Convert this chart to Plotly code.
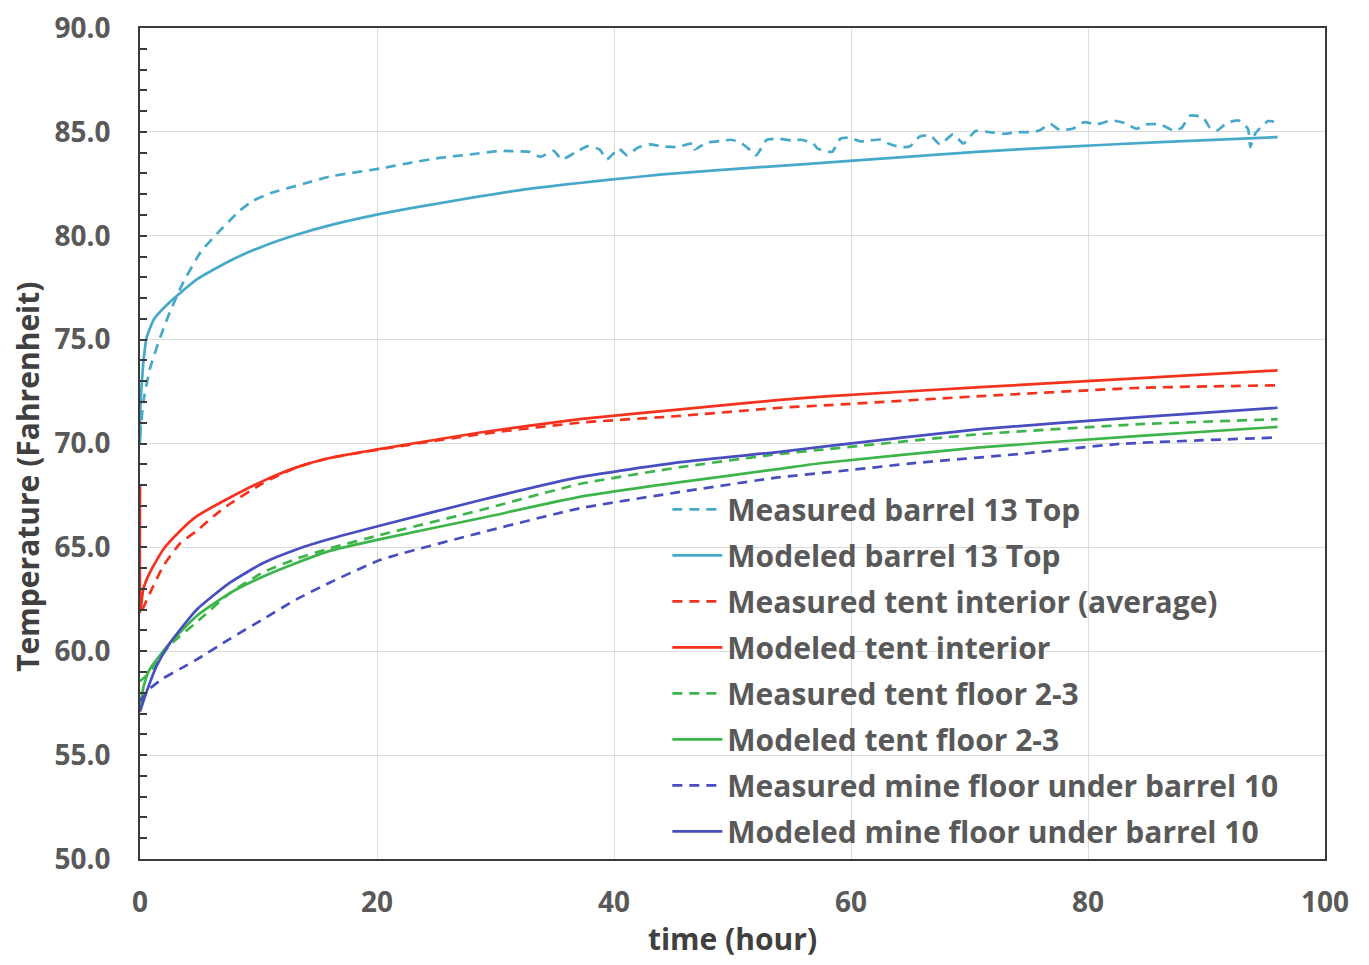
import plotly.graph_objects as go

# ---------------- data ----------------
mb_t = [0, 0.28, 0.84, 1.7, 2.5, 3.6, 5.1, 6.5, 8.4, 9.6, 11.0,
        13.8, 16.0, 20.3, 22.8, 25.3, 27.8, 30.4, 31.5, 32.9, 33.8,
        34.9, 35.6, 36.7, 37.8, 38.8, 39.4, 40.4, 41.1, 42.0, 43.0,
        44.1, 45.3, 46.7, 46.8, 47.8, 49.0, 49.9, 50.8, 51.5, 52.0,
        52.9, 53.9, 55.0, 55.8, 56.8, 57.2, 58.4, 59.1, 59.9, 60.8,
        61.6, 62.5, 63.3, 64.2, 65.0, 65.8, 66.7, 67.5, 68.6, 69.5,
        70.5, 71.7, 72.9, 74.0, 75.1, 75.9, 76.8, 77.6, 78.7, 79.7,
        80.7, 82.0, 83.1, 84.1, 84.9, 86.1, 87.2, 87.9, 88.6, 89.7,
        90.3, 90.9, 91.7, 92.7, 93.5, 93.7, 94.1, 95.2, 96.0]
mb_y = [70.3, 72.0, 73.6, 75.1, 76.3, 77.7, 79.2, 80.1, 81.2, 81.7, 82.05,
        82.5, 82.85, 83.24, 83.51, 83.75, 83.91, 84.09, 84.07, 84.04, 83.8,
        84.09, 83.67, 84.0, 84.31, 84.15, 83.67, 84.19, 83.87, 84.24, 84.4,
        84.3, 84.27, 84.44, 84.15, 84.48, 84.56, 84.62, 84.44, 84.12, 83.87,
        84.62, 84.67, 84.59, 84.62, 84.44, 84.19, 84.04, 84.67, 84.72, 84.54,
        84.59, 84.63, 84.4, 84.27, 84.31, 84.78, 84.83, 84.4, 84.88, 84.44,
        85.04, 84.99, 84.91, 84.99, 84.99, 85.07, 85.38, 85.1, 85.15, 85.47,
        85.36, 85.55, 85.42, 85.15, 85.36, 85.36, 85.07, 85.19, 85.78, 85.7,
        85.19, 85.07, 85.42, 85.55, 85.15, 84.27, 84.91, 85.52, 85.45]

modb_t = [0, 0.05, 0.14, 0.3, 0.56, 1.2, 2.5, 4.8, 7.6, 10.4, 13.2, 16.0,
          20.3, 23.6, 32.1, 39.7, 44.1, 52.3, 59.9, 70.6, 77.6, 86.1, 96.0]
modb_y = [70.0, 72.0, 72.8, 74.0, 75.1, 76.0, 76.8, 77.9, 78.8, 79.5, 80.05, 80.5,
          81.05, 81.4, 82.2, 82.7, 82.95, 83.3, 83.6, 84.04, 84.27, 84.51, 84.75]

mti_t = [0.2, 0.84, 1.96, 3.4, 4.8, 6.2, 7.6, 10.4, 13.2, 16.0, 20.3, 28.7,
         37.1, 45.6, 54.0, 58.2, 70.9, 84.4, 96.0]
mti_y = [62.0, 62.8, 64.1, 65.2, 65.8, 66.5, 67.1, 68.1, 68.85, 69.3, 69.72, 70.45,
         71.0, 71.33, 71.72, 71.85, 72.28, 72.68, 72.8]

modti_t = [0, 0.03, 0.28, 0.84, 1.96, 3.4, 4.8, 7.6, 10.4, 13.2, 16.0, 20.3, 28.7,
           37.1, 45.6, 54.0, 58.2, 70.9, 84.4, 96.0]
modti_y = [68.0, 61.9, 63.0, 63.8, 64.9, 65.8, 66.5, 67.4, 68.2, 68.85, 69.3, 69.74, 70.53,
           71.17, 71.64, 72.1, 72.28, 72.71, 73.15, 73.52]

mtf_t = [0, 0.84, 2.53, 4.78, 7.59, 10.4, 13.2, 16.0, 20.3, 28.7, 37.1, 45.6, 54.0,
         58.2, 70.9, 84.4, 96.0]
mtf_y = [58.55, 59.0, 60.3, 61.4, 62.8, 63.8, 64.45, 64.95, 65.6, 66.79, 68.05, 68.86, 69.5,
         69.74, 70.45, 70.93, 71.17]

modtf_t = [0, 0.3, 0.84, 2.53, 4.78, 7.59, 10.4, 13.2, 16.0, 20.3, 28.7, 37.1, 45.6,
           54.0, 57.4, 70.9, 84.4, 96.0]
modtf_y = [57.3, 58.3, 59.15, 60.4, 61.7, 62.8, 63.6, 64.25, 64.83, 65.4, 66.4, 67.43, 68.14,
           68.78, 69.05, 69.81, 70.37, 70.8]

mmf_t = [0, 0.84, 1.97, 3.38, 4.78, 7.59, 10.4, 13.2, 16.0, 20.3, 28.7, 37.1, 45.6,
         54.0, 58.2, 65.8, 74.3, 82.7, 96.0]
mmf_y = [57.6, 58.2, 58.7, 59.15, 59.6, 60.6, 61.55, 62.5, 63.3, 64.4, 65.7, 66.88, 67.67,
         68.38, 68.62, 69.08, 69.5, 69.98, 70.29]

modmf_t = [0, 0.56, 1.4, 2.53, 4.78, 7.59, 10.4, 13.2, 16.0, 20.3, 28.7, 37.1, 45.6,
           54.0, 58.2, 70.9, 84.4, 96.0]
modmf_y = [57.1, 58.06, 59.3, 60.4, 62.0, 63.3, 64.25, 64.9, 65.4, 66.05, 67.27, 68.38, 69.1,
           69.6, 69.89, 70.69, 71.27, 71.72]

series_names = ["Measured barrel 13 Top", "Modeled barrel 13 Top",
                "Measured tent interior (average)", "Modeled tent interior",
                "Measured tent floor 2-3", "Modeled tent floor 2-3",
                "Measured mine floor under barrel 10", "Modeled mine floor under barrel 10"]

x_ticks = [0, 20, 40, 60, 80, 100]
y_ticks = [50, 55, 60, 65, 70, 75, 80, 85, 90]
x_title = "time (hour)"
y_title = "Temperature (Fahrenheit)"

# ---------------- styles ----------------
CYAN = "#47a9ca"
RED = "#f5321e"
GREEN = "#3db54a"
BLUE = "#484dbf"
DASH = "10px,7px"

series = [
    (mb_t, mb_y, CYAN, DASH),
    (modb_t, modb_y, CYAN, "solid"),
    (mti_t, mti_y, RED, DASH),
    (modti_t, modti_y, RED, "solid"),
    (mtf_t, mtf_y, GREEN, DASH),
    (modtf_t, modtf_y, GREEN, "solid"),
    (mmf_t, mmf_y, BLUE, DASH),
    (modmf_t, modmf_y, BLUE, "solid"),
]

fig = go.Figure()
for i, (name, (xs, ys, col, dash)) in enumerate(zip(series_names, series)):
    fig.add_trace(go.Scatter(
        x=xs, y=ys, mode="lines", name=name,
        legendgroup=f"g{i}",
        line=dict(color=col, width=2.7, dash=dash, shape="spline", smoothing=0.5),
    ))

FONT = "Open Sans"
fig.update_layout(
    width=1369, height=965,
    margin=dict(l=132, r=52, t=20, b=114, autoexpand=False),
    paper_bgcolor="white", plot_bgcolor="white",
    font=dict(family=FONT, color="#595959"),
    showlegend=True,
    legend=dict(
        x=0.445, y=0.452, xanchor="left", yanchor="top",
        bgcolor="rgba(0,0,0,0)",
        font=dict(family=FONT, size=30, color="#595959", weight="bold"),
        traceorder="grouped", tracegroupgap=4,
        itemwidth=50,
    ),
    xaxis=dict(
        range=[0, 100], tickvals=x_ticks, ticktext=[str(v) for v in x_ticks],
        showgrid=True, gridcolor="#dcdcdc", gridwidth=1,
        showline=True, linecolor="#3a3a3a", linewidth=2, mirror=True,
        ticks="", zeroline=False, automargin=False,
        tickfont=dict(family=FONT, size=28, color="#595959", weight="bold"),
        ticklabelstandoff=17, ticklabeloverflow="allow",
        title=dict(text=x_title, standoff=10,
                   font=dict(family=FONT, size=30, color="#404040", weight="bold")),
    ),
    yaxis=dict(
        range=[50, 90], tickvals=y_ticks, ticktext=[f"{v:.1f}" for v in y_ticks],
        showgrid=True, gridcolor="#dcdcdc", gridwidth=1,
        showline=True, linecolor="#3a3a3a", linewidth=2, mirror=True,
        ticks="inside", ticklen=7, tickwidth=2, tickcolor="#3a3a3a",
        minor=dict(dtick=1, tick0=50, ticks="inside", ticklen=7, tickwidth=1.5,
                   tickcolor="#3a3a3a", showgrid=False),
        zeroline=False, automargin=False,
        tickfont=dict(family=FONT, size=28, color="#595959", weight="bold"),
        ticklabelstandoff=22, ticklabeloverflow="allow",
    ),
    annotations=[dict(
        text=y_title, textangle=-90, showarrow=False,
        xref="paper", yref="paper", x=-0.0945, y=0.46,
        xanchor="center", yanchor="middle",
        font=dict(family=FONT, size=30, color="#404040", weight="bold"),
    )],
)

fig.write_html("out.html")
